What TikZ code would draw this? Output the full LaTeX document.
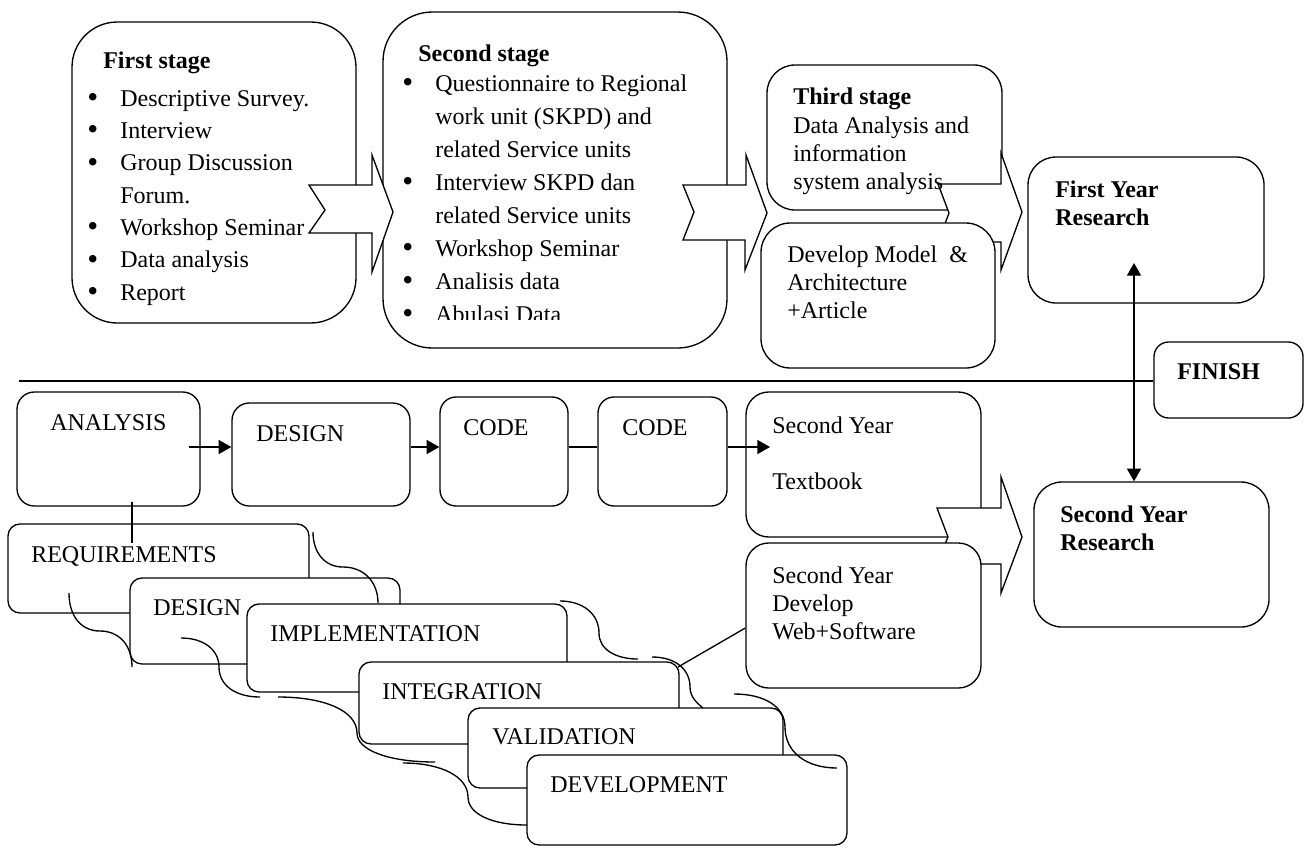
\documentclass[tikz,border=0pt]{standalone}
\usepackage{fontspec}
\setmainfont{Liberation Serif}
\usetikzlibrary{arrows.meta,fit,calc}
\tikzset{
  box/.style={draw, line width=1pt, fill=white, inner sep=0pt},
  lbl/.style={inner sep=0pt, anchor=base west, font=\fontsize{18}{21}\selectfont},
  bold/.style={inner sep=0pt, anchor=base west, font=\fontsize{18}{21}\selectfont\bfseries},
  listtxt/.style={inner sep=0pt, anchor=base west, font=\fontsize{18}{24.25}\selectfont},
  listtxtb/.style={inner sep=0pt, anchor=base west, font=\fontsize{18}{24.75}\selectfont},
  conn/.style={line width=1pt},
  tri/.style={line width=1pt, -{Triangle[width=10.5pt,length=9.5pt]}},
  dtri/.style={line width=1pt, {Triangle[width=10.5pt,length=9.5pt]}-{Triangle[width=10.5pt,length=9.5pt]}},
  blockarrow/.style={draw, line width=1pt, fill=white, line join=miter},
}
\newcommand{\mybul}{\makebox[24.75pt][l]{\raisebox{-0.15ex}{\scalebox{1.3}{\textbullet}}}}
\newcommand{\myind}{\hspace*{24.75pt}}

\begin{document}
\begin{tikzpicture}[x=0.75pt,y=-0.75pt]
\useasboundingbox (0,0) rectangle (1305,847);

% ---------- First stage ----------
\node[box, rounded corners=34pt, fit={(72,22) (356,323)}] (s1) {};
\node[bold] (s1t) at (103,68) {First stage};
\node[listtxt] (s1l) at (87,106) {\begin{tabular}[t]{@{}l@{}}
\mybul Descriptive Survey.\\
\mybul Interview\\
\mybul Group Discussion\\
\myind Forum.\\
\mybul Workshop Seminar\\
\mybul Data analysis\\
\mybul Report
\end{tabular}};

% ---------- Second stage ----------
\node[box, rounded corners=37pt, fit={(383,12) (727,348)}] (s2) {};
\node[bold] (s2t) at (418,61) {Second stage};
\begin{scope}
\clip (383,12) rectangle (727,319);
\node[listtxtb] (s2l) at (402,91) {\begin{tabular}[t]{@{}l@{}}
\mybul Questionnaire to Regional\\
\myind work unit (SKPD) and\\
\myind related Service units\\
\mybul Interview SKPD dan\\
\myind related Service units\\
\mybul Workshop Seminar\\
\mybul Analisis data\\
\mybul Abulasi Data
\end{tabular}};
\end{scope}

% block arrow 1
\draw[blockarrow] (309,185) -- (372,185) -- (372,155) -- (393,212) -- (372,272)
  -- (372,233) -- (309,233) -- (325,210) -- cycle;

% ---------- Third stage ----------
\node[box, rounded corners=21pt, fit={(767,65) (1002,210)}] (s3) {};
% block arrow 3
\draw[blockarrow] (938,184) -- (1001,184) -- (1001,153) -- (1022,212) -- (1001,270)
  -- (1001,242) -- (938,242) -- (949,213) -- cycle;
\node[bold] (s3t) at (793,104) {Third stage};
\node[lbl] (s3l) at (793,133) {\begin{tabular}[t]{@{}l@{}}
Data Analysis and\\ information\\ system analysis
\end{tabular}};

% Develop model box
\node[box, rounded corners=22pt, fit={(761,223) (995,368)}] (dm) {};
\node[lbl] (dml) at (787,262) {\begin{tabular}[t]{@{}l@{}}
Develop Model\ \ \&\\ Architecture\\ +Article
\end{tabular}};

% block arrow 2
\draw[blockarrow] (683,185) -- (746,185) -- (746,155) -- (767,213) -- (745,270)
  -- (745,240) -- (683,240) -- (694,212) -- cycle;

% First Year Research
\node[box, rounded corners=21pt, fit={(1028,157) (1264,303)}] (fyr) {};
\node[bold] (fyrt) at (1055,197) {\begin{tabular}[t]{@{}l@{}}First Year\\ Research\end{tabular}};

% FINISH
\node[box, rounded corners=11pt, fit={(1154,342) (1303,418)}] (fin) {};
\node[bold] (fint) at (1177,379) {FINISH};

% separator line
\coordinate (hl) at (19,381);
\draw[conn] (hl) -- (hl -| fin.west);

% ---------- bottom row ----------
\node[box, rounded corners=13pt, fit={(17,392) (200,506)}] (ana) {};
\node[lbl] (anat) at (50,430) {ANALYSIS};
\node[box, rounded corners=13pt, fit={(232,403) (410,506)}] (des) {};
\node[lbl] (dest) at (256,441) {DESIGN};
\node[box, rounded corners=12pt, fit={(440,397) (568,506)}] (c1) {};
\node[lbl] (c1t) at (463,435) {CODE};
\node[box, rounded corners=12pt, fit={(598,397) (727,506)}] (c2) {};
\node[lbl] (c2t) at (622,435) {CODE};

\node[box, rounded corners=17pt, fit={(746,392) (981,537)}] (tb) {};
\node[lbl] (tbl) at (772,433) {\begin{tabular}[t]{@{}l@{}}Second Year\\ \\ Textbook\end{tabular}};

% block arrow 4
\draw[blockarrow] (937,508) -- (1001,508) -- (1001,477) -- (1022,537) -- (1001,593)
  -- (1001,564) -- (937,564) -- (948,537) -- cycle;

\node[box, rounded corners=17pt, fit={(746,543) (981,688)}] (web) {};
\node[lbl] (webl) at (772,583) {\begin{tabular}[t]{@{}l@{}}Second Year\\ Develop\\ Web+Software\end{tabular}};

% Second Year Research
\node[box, rounded corners=21pt, fit={(1034,482) (1269,627)}] (syr) {};
\node[bold] (syrt) at (1060,522) {\begin{tabular}[t]{@{}l@{}}Second Year\\ Research\end{tabular}};

% vertical double arrow
\coordinate (vtop) at (1134,263);
\draw[dtri] (vtop) -- (vtop |- syr.north);

% horizontal flow arrows
\coordinate (a1) at (189,447);
\coordinate (a4) at (770,447);
\draw[tri] (a1) -- (a1 -| des.west);
\draw[tri] (des.east |- a1) -- (c1.west |- a1);
\draw[conn] (c1.east |- a1) -- (c2.west |- a1);
\draw[tri] (c2.east |- a1) -- (a4);

% ---------- waterfall ----------
\node[box, rounded corners=9pt, fit={(8,524) (309,613)}] (req) {};
\node[lbl] (reqt) at (31,562) {REQUIREMENTS};
\node[box, rounded corners=9pt, fit={(130,578) (400,664)}] (wd) {};
\node[lbl] (wdt) at (153,615) {DESIGN};
\node[box, rounded corners=9pt, fit={(247,604) (567,692)}] (imp) {};
\node[lbl] (impt) at (270,641) {IMPLEMENTATION};
\node[box, rounded corners=9pt, fit={(359,662) (679,744)}] (int) {};
\node[lbl] (intt) at (382,699) {INTEGRATION};
\node[box, rounded corners=9pt, fit={(468,708) (783,788)}] (val) {};
\node[lbl] (valt) at (492,744) {VALIDATION};
\node[box, rounded corners=9pt, fit={(527,755) (847,845)}] (dev) {};
\node[lbl] (devt) at (550,792) {DEVELOPMENT};

% curved connectors
\draw[conn] (313,532) .. controls (313,553) and (325,567) .. (343,567)
  .. controls (364,567) and (378,582) .. (378,603);
\draw[conn] (69,593) .. controls (69,616) and (81,631) .. (100,631)
  .. controls (119,631) and (132,645) .. (132,667);
\draw[conn] (181,638) .. controls (204,638) and (219,650) .. (219,667)
  .. controls (219,685) and (235,697) .. (260,697);
\draw[conn] (278,697) .. controls (325,697) and (357,711) .. (357,733)
  .. controls (357,750) and (388,762) .. (435,762);
\draw[conn] (403,763) .. controls (442,763) and (468,777) .. (468,797)
  .. controls (468,814) and (492,825) .. (527,825);
\draw[conn] (560,601) .. controls (583,601) and (599,614) .. (599,633)
  .. controls (599,649) and (615,659) .. (638,659);
\draw[conn] (652,657) .. controls (675,657) and (690,669) .. (690,687)
  .. controls (690,697) and (697,703) .. (703,708);
\draw[conn] (734,694) .. controls (765,694) and (785,707) .. (785,727)
  .. controls (785,752) and (806,768) .. (837,768);

% analysis to requirements
\coordinate (r1) at (132,502);
\coordinate (r2) at (132,543);
\draw[conn] (r1) -- (r2);

% web box to integration
\coordinate (w1) at (678,667);
\draw[conn] ($(web.west)+(0,12.5)$) -- (w1);
\end{tikzpicture}
\end{document}
